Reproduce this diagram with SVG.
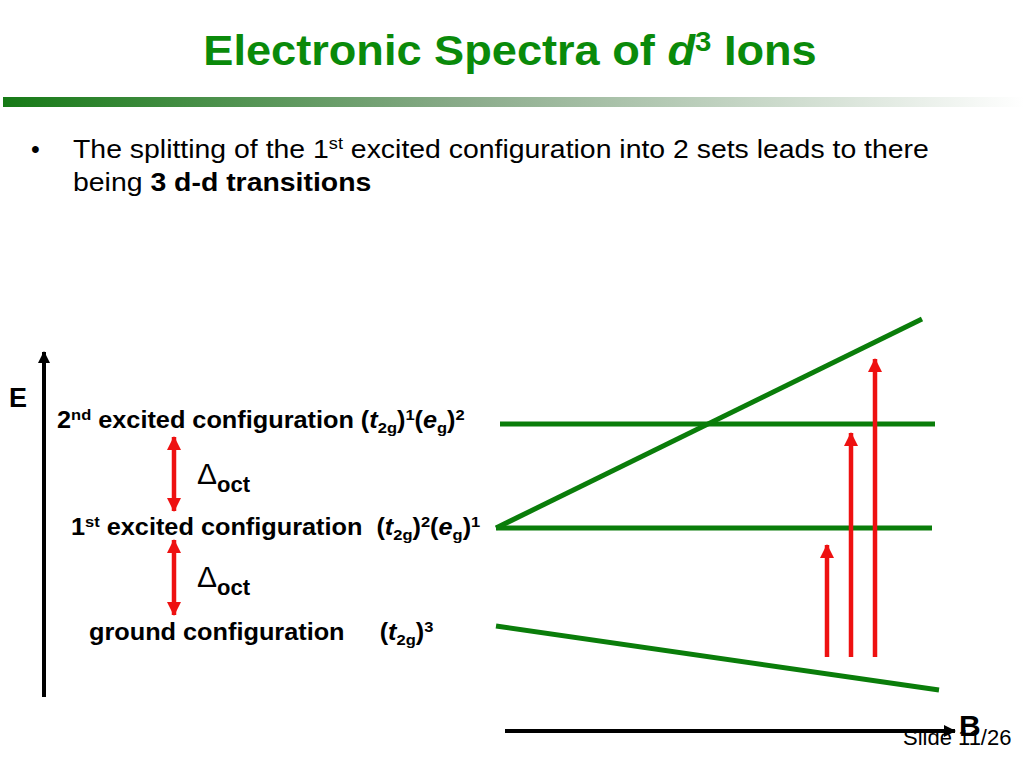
<svg xmlns="http://www.w3.org/2000/svg" width="1024" height="768" viewBox="0 0 1024 768">
<defs>
<linearGradient id="bar" x1="0" y1="0" x2="1" y2="0">
<stop offset="0" stop-color="#167a16"/>
<stop offset="0.45" stop-color="#8aab8a"/>
<stop offset="1" stop-color="#ffffff"/>
</linearGradient>
<marker id="ra" viewBox="0 0 14 14" refX="13" refY="7" markerWidth="14" markerHeight="14" markerUnits="userSpaceOnUse" orient="auto-start-reverse">
<path d="M0,0 L14,7 L0,14 Z" fill="#ee1111"/>
</marker>
<marker id="ba" viewBox="0 0 12 12" refX="11" refY="6" markerWidth="12" markerHeight="12" markerUnits="userSpaceOnUse" orient="auto">
<path d="M0,0 L12,6 L0,12 Z" fill="#000"/>
</marker>
</defs>
<style>
.t{font-family:"Liberation Sans",Arial,sans-serif}
.lbl{font-family:"Liberation Sans",Arial,sans-serif;font-weight:bold;font-size:23px;fill:#000}
.g{stroke:#0a7d0a;stroke-width:5;fill:none}
.r{stroke:#ee1111;stroke-width:4.5;fill:none}
.ax{stroke:#000;stroke-width:4;fill:none}
</style>
<rect width="1024" height="768" fill="#fff"/>
<g id="title">
<text class="t" transform="translate(510,65) scale(1.05,1)" text-anchor="middle" font-size="43" font-weight="bold" fill="#0a8a0a">Electronic Spectra of <tspan font-style="italic">d</tspan><tspan font-size="28" dy="-14">3</tspan><tspan dy="14"> Ions</tspan></text>
<rect x="3" y="97" width="1021" height="10" fill="url(#bar)"/>
</g>
<g id="bullet">
<text class="t" x="31" y="158" font-size="25" fill="#000">•</text>
<text class="t" transform="translate(73,158) scale(1.137,1)" font-size="25" fill="#000">The splitting of the 1<tspan font-size="16" dy="-9">st</tspan><tspan dy="9"> excited configuration into 2 sets leads to there</tspan></text>
<text class="t" transform="translate(73,191) scale(1.137,1)" font-size="25" fill="#000">being <tspan font-weight="bold">3 d-d transitions</tspan></text>
</g>
<g id="axes">
<line class="ax" x1="44" y1="697" x2="44" y2="352" marker-end="url(#ba)"/>
<line class="ax" x1="505" y1="731" x2="955" y2="731" marker-end="url(#ba)"/>
<text class="t" x="9" y="407" font-size="27" font-weight="bold">E</text>
<text class="t" x="959" y="736" font-size="30" font-weight="bold">B</text>
</g>
<g id="labels">
<text class="lbl" transform="translate(57,428) scale(1.1,1)">2<tspan font-size="15" dy="-8">nd</tspan><tspan dy="8"> excited configuration (</tspan><tspan font-style="italic">t</tspan><tspan font-size="15" dy="5">2g</tspan><tspan dy="-5">)</tspan><tspan font-size="15" dy="-8">1</tspan><tspan dy="8">(</tspan><tspan font-style="italic">e</tspan><tspan font-size="15" dy="5">g</tspan><tspan dy="-5">)</tspan><tspan font-size="15" dy="-8">2</tspan></text>
<text class="lbl" transform="translate(71,535) scale(1.1,1)" xml:space="preserve">1<tspan font-size="15" dy="-8">st</tspan><tspan dy="8"> excited configuration  (</tspan><tspan font-style="italic">t</tspan><tspan font-size="15" dy="5">2g</tspan><tspan dy="-5">)</tspan><tspan font-size="15" dy="-8">2</tspan><tspan dy="8">(</tspan><tspan font-style="italic">e</tspan><tspan font-size="15" dy="5">g</tspan><tspan dy="-5">)</tspan><tspan font-size="15" dy="-8">1</tspan></text>
<text class="lbl" transform="translate(89,640) scale(1.1,1)" xml:space="preserve">ground configuration     (<tspan font-style="italic">t</tspan><tspan font-size="15" dy="5">2g</tspan><tspan dy="-5">)</tspan><tspan font-size="15" dy="-8">3</tspan></text>
<text class="t" x="197" y="484" font-size="30">Δ<tspan font-size="22" font-weight="bold" dy="8">oct</tspan></text>
<text class="t" x="197" y="587" font-size="30">Δ<tspan font-size="22" font-weight="bold" dy="8">oct</tspan></text>
</g>
<g id="connectors">
<line class="r" x1="174" y1="437" x2="174" y2="511" marker-start="url(#ra)" marker-end="url(#ra)"/>
<line class="r" x1="174" y1="540" x2="174" y2="615" marker-start="url(#ra)" marker-end="url(#ra)"/>
</g>
<g id="levels">
<line class="g" x1="500" y1="424" x2="935" y2="424"/>
<line class="g" x1="496" y1="528" x2="932" y2="528"/>
<line class="g" x1="496" y1="528" x2="922" y2="319"/>
<line class="g" x1="496" y1="626" x2="939" y2="690"/>
</g>
<g id="transitions">
<line class="r" x1="827" y1="657" x2="827" y2="545" marker-end="url(#ra)"/>
<line class="r" x1="851" y1="657" x2="851" y2="433" marker-end="url(#ra)"/>
<line class="r" x1="875" y1="657" x2="875" y2="359" marker-end="url(#ra)"/>
</g>
<text class="t" x="903" y="745" font-size="22" fill="#000">Slide 11/26</text>
</svg>
